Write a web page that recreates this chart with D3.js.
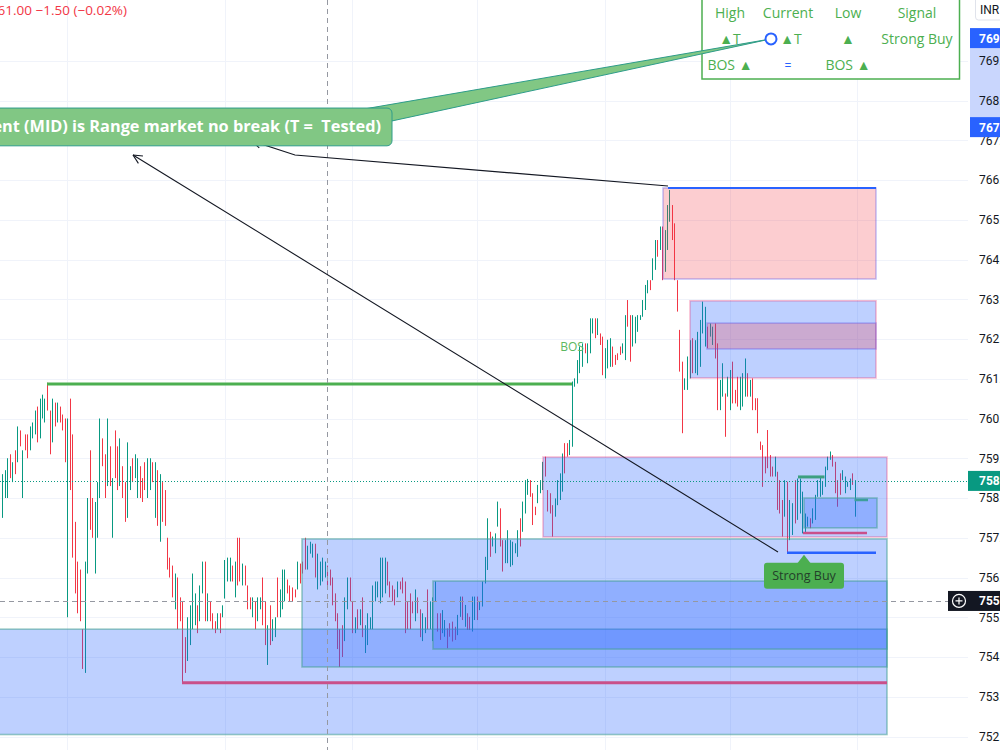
<!DOCTYPE html>
<html>
<head>
<meta charset="utf-8">
<script src="https://cdnjs.cloudflare.com/ajax/libs/d3/7.8.5/d3.min.js"></script>
<style>
  html, body { margin: 0; padding: 0; background: #fff; overflow: hidden; }
  svg { display: block; font-family: "Open Sans", Roboto, sans-serif; }
</style>
</head>
<body>
<svg id="chart" width="1000" height="750"></svg>
<script>
// ---- data (bar index 0..341, prices in INR) ----
const highs = [
  758.6,758.7,759.0,759.1,758.9,759.2,759.8,759.7,759.2,759.6,
  759.6,759.8,759.9,760.2,760.3,760.5,760.6,760.5,760.9,760.2,
  760.5,760.4,760.4,760.3,760.1,760.0,760.0,760.5,759.6,757.4,
  756.4,756.2,754.7,756.4,758.0,759.2,758.0,757.9,758.4,760.0,
  759.5,759.1,760.0,759.3,758.5,759.7,759.3,759.5,758.8,758.4,
  759.4,758.8,759.0,759.1,759.0,758.8,758.5,758.9,759.0,759.0,
  758.9,758.9,758.7,758.6,758.4,758.2,757.0,756.5,756.3,756.1,
  756.0,755.5,755.4,754.5,755.0,755.3,756.1,755.6,755.3,755.8,
  756.4,756.4,755.6,755.4,755.1,754.9,755.1,755.1,
  755.3,756.44,756.5,756.5,756.3,756.4,757.0,757.0,756.35,756.3,
  755.8,755.5,755.5,755.4,755.5,755.5,756.0,755.4,754.8,755.3,
  754.95,755.0,756.0,755.7,756.2,756.2,755.95,755.8,755.75,755.7,
  756.4,756.35,756.4,757.0,756.8,756.9,756.85,756.85,756.6,756.4,
  756.5,756.4,756.3,756.2,756.0,755.6,755.1,754.7,754.8,755.5,
  756.0,756.0,755.4,755.0,755.2,755.2,755.5,754.8,755.1,755.0,
  755.8,755.9,755.9,756.5,756.5,756.5,756.4,755.9,755.8,755.7,
  755.9,755.9,756.0,755.9,755.4,755.6,755.4,755.7,755.5,755.2,
  755.1,755.0,755.7,755.4,755.5,755.9,
  755.1,755.1,755.18,754.93,754.72,754.85,754.89,754.76,755.06,755.52,
  755.52,755.31,755.1,755.01,755.52,755.52,755.52,755.39,755.9,756.52,
  757.49,757.15,757.03,757.11,757.91,757.74,756.94,756.94,757.19,756.94,
  756.9,756.86,757.19,757.49,757.91,758.45,758.48,758.45,758.12,757.78,
  758.33,758.45,758.91,759.04,758.2,758.12,757.82,757.99,758.45,758.62,
  759.12,759.38,759.38,759.46,760.93,761.01,761.47,761.81,761.89,761.89,
  761.89,762.52,762.52,762.52,762.52,762.14,762.06,761.77,761.98,762.02,
  761.81,761.6,761.64,761.81,761.89,762.6,762.98,762.6,762.6,762.56,
  762.6,762.6,762.98,763.36,763.48,763.48,
  764.03,764.49,764.49,764.83,764.83,764.74,765.37,765.75,765.37,764.91,
  763.48,762.23,761.43,761.01,761.56,761.97,762.02,761.97,762.18,762.48,
  762.94,762.81,762.31,762.39,762.31,762.39,761.89,760.97,761.39,760.63,
  761.05,761.22,761.43,760.72,761.05,761.05,761.14,761.51,761.14,760.97,
  761.01,760.51,760.51,759.42,759.33,759.04,759.71,759.08,758.79,759.04,
  758.66,758.45,757.95,758.45,758.41,757.95,757.87,758.45,758.49,758.49,
  758.16,757.61,757.53,757.49,757.74,758.08,758.45,758.54,758.41,758.79,
  759.04,759.17,759.08,758.91,758.45,758.62,758.7,758.54,758.41,758.49,
  758.62,758.45
];
const lows = [
  757.5,758.0,758.0,758.5,758.4,758.6,758.9,759.3,758.0,759.2,
  759.0,759.2,759.5,759.6,759.4,759.5,760.0,759.9,760.2,759.1,
  759.4,759.8,759.9,759.9,759.7,758.9,755.0,758.2,756.5,755.6,
  755.1,754.9,753.7,753.6,756.1,757.2,757.0,756.1,757.0,758.0,
  758.8,758.0,758.3,758.3,757.0,758.5,758.2,758.3,758.0,757.4,
  757.5,758.2,758.4,758.5,758.0,758.0,757.9,758.2,758.0,758.2,
  758.4,757.5,757.3,756.9,757.4,757.3,756.2,756.0,755.5,755.2,
  754.7,754.9,753.35,753.6,753.9,754.3,754.7,754.8,754.6,754.9,
  755.6,754.9,754.9,754.9,754.7,754.6,754.7,754.6,
  755.0,755.47,755.9,755.9,755.9,755.5,755.8,755.9,755.8,755.8,
  755.2,755.2,755.0,754.7,754.9,755.2,754.8,754.3,753.8,754.3,
  754.4,754.5,755.0,755.0,755.2,755.4,755.6,755.4,755.4,755.5,
  755.7,755.85,756.1,756.2,756.2,756.6,756.5,756.0,755.7,755.8,
  755.9,756.0,755.8,755.8,755.3,754.9,754.2,753.75,754.0,754.4,
  755.2,755.4,754.6,754.6,754.7,754.8,754.5,754.1,754.3,754.7,
  754.7,755.4,755.5,755.35,755.5,755.6,755.8,755.5,755.4,755.3,
  755.5,755.7,755.6,754.6,754.7,754.7,755.1,754.9,755.1,754.5,
  754.4,754.6,754.7,754.7,754.4,755.4,
  754.64,754.43,754.6,754.51,754.22,754.51,754.39,754.43,754.55,755.01,
  754.93,754.76,754.68,754.68,754.64,754.93,754.93,755.18,755.27,755.85,
  756.19,756.52,756.78,756.61,757.28,756.78,756.15,756.36,756.36,756.27,
  756.31,756.61,756.52,756.78,757.15,757.61,758.08,758.03,757.32,757.57,
  757.87,758.12,758.2,758.54,757.66,757.61,757.03,757.53,757.82,757.95,
  758.16,758.62,759.04,759.08,759.29,760.8,760.88,761.14,761.3,761.64,
  761.39,761.64,762.14,762.02,762.1,761.85,761.09,761.01,761.26,761.3,
  761.3,761.35,761.47,761.6,761.64,761.47,762.31,761.43,761.81,761.89,
  762.18,762.48,762.56,762.73,763.15,763.23,
  763.48,763.74,764.07,764.24,763.48,763.69,764.24,764.95,764.49,763.48,
  762.69,761.18,759.63,760.72,760.72,761.01,761.14,761.14,761.09,761.3,
  762.14,761.81,761.77,762.06,761.85,761.51,760.21,760.21,760.55,759.54,
  760.55,760.21,760.38,760.38,760.3,760.21,760.3,760.55,760.55,760.55,
  760.21,760.21,759.63,759.21,758.28,758.62,758.75,758.54,758.54,758.54,
  757.7,757.61,757.03,757.53,756.62,756.94,757.07,757.36,757.45,757.61,
  757.11,757.11,757.28,757.24,757.36,757.45,758.03,758.03,758.08,758.28,
  758.7,758.96,758.79,758.12,757.78,758.08,758.45,758.12,758.28,758.2,
  758.33,757.53
];
// 1 = closed up (teal), 0 = closed down (red)
const rising = [
  1,1,1,0,1,0,1,0,1,0, 0,1,1,1,0,1,1,1,0,0, 1,0,1,0,0,0,1,0,0,0,
  0,0,0,1,1,0,0,1,1,1, 0,0,1,0,1,0,0,1,0,0, 1,1,0,1,1,0,0,0,1,1,
  0,1,0,1,0,0,0,0,0,1, 0,0,0,0,1,1,1,1,0,1, 1,0,1,0,0,0,1,0,
  1,1,1,1,0,1,0,0,1,0, 0,0,1,0,1,1,0,0,1,0, 1,1,0,1,1,1,0,0,0,0,
  1,0,0,0,1,1,1,0,1,1, 1,1,0,0,0,0,0,0,0,1, 1,0,0,1,0,1,0,1,1,1,
  1,1,1,1,1,1,0,0,0,0, 1,0,0,0,0,0,0,1,0,0, 1,1,0,1,1,1,
  0,0,1,1,0,0,0,0,1,1, 0,1,0,0,1,1,0,1,1,1, 1,0,1,1,1,0,0,1,1,1,
  1,1,1,0,1,1,1,0,0,0, 1,1,1,0,0,0,0,1,1,1, 1,0,0,1,1,1,1,1,1,0,
  1,1,1,0,1,0,0,1,1,1, 0,0,0,0,1,1,0,0,1,1, 1,1,1,1,1,0,
  1,1,0,1,0,1,1,1,0,0, 0,0,0,1,1,1,0,1,1,1, 1,1,0,1,1,0,0,1,1,0,
  1,1,0,0,0,1,1,1,0,1, 0,0,0,0,0,0,0,0,0,1, 0,0,0,1,0,1,1,0,1,1,
  1,1,1,0,1,1,1,1,1,1, 1,1,0,0,0,0,1,1,1,1, 0,1
];

const priceTicks = d3.range(752, 770);           // 752 ... 769
const timeGrid = [26, 89.2, 140, 190, 241.2, 291.2, 342];

// zones: bar-index span and price span
const zones = [
  { from: -5,    to: 354,   low: 752.05, high: 754.7,  kind: "demand" },
  { from: 120,   to: 354,   low: 753.75, high: 756.97, kind: "demand" },
  { from: 172.4, to: 354,   low: 754.2,  high: 755.91, kind: "demand" },
  { from: 216.4, to: 354,   low: 757.02, high: 759.03, kind: "blueP" },
  { from: 264.4, to: 349.6, low: 763.51, high: 765.8,  kind: "supply" },
  { from: 275.2, to: 349.6, low: 761.02, high: 762.96, kind: "blueP" },
  { from: 282,   to: 349.6, low: 761.75, high: 762.4,  kind: "supply" },
  { from: 320.8, to: 350,   low: 757.25, high: 758.0,  kind: "demand" }
];
const levels = [
  { from: 18,    to: 228,   price: 760.87, color: "#4caf50", w: 3 },
  { from: 72,    to: 354,   price: 753.35, color: "#c9508a", w: 3 },
  { from: 266.4, to: 349.6, price: 765.8,  color: "#2962ff", w: 2 },
  { from: 314,   to: 349.6, price: 756.62, color: "#2962ff", w: 2.5 },
  { from: 318.4, to: 329,   price: 758.53, color: "#3d9f80", w: 3 },
  { from: 341,   to: 346.4, price: 757.95, color: "#3d9f9a", w: 2.5 },
  { from: 320.4, to: 346,   price: 757.12, color: "#c9508a", w: 2.5 }
];
const lastPrice = 758.43;
const crossPrice = 755.41, crossBar = 130;
const calloutBox = { from: -4.8, to: 156, top: 767.81, bottom: 766.86 };
const calloutTail = [[145.2, 767.79], [307.6, 769.55], [155.6, 767.48]];
const arrows = [
  [[266.4, 765.85], [117.2, 766.63], [100, 766.98]],
  [[310.4, 756.64], [52.4, 766.63]]
];
const drawingPrices = [769.57, 767.33];

// ---- scales ----
const W = 1000, H = 750, plotRight = 968;
const x = d3.scaleLinear().domain([0, 341]).range([2, 854.5]);
const y = d3.scaleLinear().domain([752, 766]).range([736.5, 180]);

const svg = d3.select("#chart");
svg.append("defs").append("clipPath").attr("id", "plotClip")
  .append("rect").attr("width", plotRight).attr("height", H);

const plot = svg.append("g").attr("clip-path", "url(#plotClip)");

// grid
plot.selectAll(".hgrid").data(priceTicks).join("line")
  .attr("x1", 0).attr("x2", plotRight)
  .attr("y1", d => Math.round(y(d)) + 0.5).attr("y2", d => Math.round(y(d)) + 0.5)
  .attr("stroke", "#f0f3fa");
plot.selectAll(".vgrid").data(timeGrid).join("line")
  .attr("x1", d => Math.round(x(d)) + 0.5).attr("x2", d => Math.round(x(d)) + 0.5)
  .attr("y1", 0).attr("y2", H)
  .attr("stroke", "#f0f3fa");

// bars
const bars = highs.map((h, i) => ({ i, high: h, low: lows[i], up: rising[i] === 1 }));
plot.selectAll(".bar").data(bars).join("rect")
  .attr("x", d => Math.round(x(d.i)))
  .attr("width", 1)
  .attr("y", d => y(d.high))
  .attr("height", d => Math.max(1, y(d.low) - y(d.high)))
  .attr("fill", d => d.up ? "#089981" : "#f23645");

// zones drawn over the bars
const zoneStyle = {
  demand: { fill: "rgba(41,98,255,0.3)", stroke: "rgba(70,160,150,0.55)" },
  blueP:  { fill: "rgba(41,98,255,0.3)", stroke: "rgba(233,30,99,0.3)" },
  supply: { fill: "rgba(242,54,69,0.25)", stroke: "rgba(90,80,230,0.35)" }
};
plot.selectAll(".zone").data(zones).join("rect")
  .attr("x", d => x(d.from)).attr("width", d => x(d.to) - x(d.from))
  .attr("y", d => y(d.high)).attr("height", d => y(d.low) - y(d.high))
  .attr("fill", d => zoneStyle[d.kind].fill)
  .attr("stroke", d => zoneStyle[d.kind].stroke)
  .attr("stroke-width", 1.6);

// structure levels
plot.selectAll(".level").data(levels).join("line")
  .attr("x1", d => x(d.from)).attr("x2", d => x(d.to))
  .attr("y1", d => y(d.price)).attr("y2", d => y(d.price))
  .attr("stroke", d => d.color).attr("stroke-width", d => d.w);

// last price dotted line
plot.append("line")
  .attr("x1", 0).attr("x2", plotRight)
  .attr("y1", Math.round(y(lastPrice)) + 0.5).attr("y2", Math.round(y(lastPrice)) + 0.5)
  .attr("stroke", "#089981").attr("stroke-dasharray", "1,2");

// crosshair
plot.append("line")
  .attr("x1", 0).attr("x2", plotRight)
  .attr("y1", Math.round(y(crossPrice)) + 0.5).attr("y2", Math.round(y(crossPrice)) + 0.5)
  .attr("stroke", "#9598a1").attr("stroke-dasharray", "5,4");
plot.append("line")
  .attr("x1", Math.round(x(crossBar)) + 0.5).attr("x2", Math.round(x(crossBar)) + 0.5)
  .attr("y1", 0).attr("y2", H)
  .attr("stroke", "#9598a1").attr("stroke-dasharray", "5,4");

// BOS text
plot.append("text")
  .attr("x", x(228)).attr("y", y(761.8) + 4)
  .attr("text-anchor", "middle").attr("font-size", 12)
  .attr("fill", "#5cb860").text("BOS");

// arrows
arrows.forEach(pts => {
  const p = pts.map(d => [x(d[0]), y(d[1])]);
  plot.append("path").attr("d", d3.line()(p))
    .attr("fill", "none").attr("stroke", "#131722").attr("stroke-width", 1.1);
  const a = p[p.length - 1], b = p[p.length - 2];
  const ang = Math.atan2(b[1] - a[1], b[0] - a[0]);
  [-0.45, 0.45].forEach(o => {
    plot.append("line")
      .attr("x1", a[0]).attr("y1", a[1])
      .attr("x2", a[0] + 10 * Math.cos(ang + o)).attr("y2", a[1] + 10 * Math.sin(ang + o))
      .attr("stroke", "#131722").attr("stroke-width", 1.1);
  });
});

// Strong Buy label
{
  const tx = x(320.8), ty = y(756.62) + 2;
  const g = plot.append("g");
  g.append("path")
    .attr("d", `M${tx - 7},${ty + 9} L${tx},${ty} L${tx + 7},${ty + 9} Z`)
    .attr("fill", "#4caf50");
  g.append("rect")
    .attr("x", tx - 40).attr("y", ty + 8).attr("width", 80).attr("height", 26).attr("rx", 3)
    .attr("fill", "#4caf50");
  g.append("text")
    .attr("x", tx).attr("y", ty + 25.5).attr("text-anchor", "middle")
    .attr("font-size", 12.5).attr("fill", "#23402a").text("Strong Buy");
}

// header (cut at left edge)
svg.append("text")
  .attr("x", 127).attr("y", 15).attr("text-anchor", "end")
  .attr("font-size", 13.5).attr("fill", "#f23645")
  .text("C761.00 \u22121.50 (\u22120.02%)");

// table
{
  const g = svg.append("g");
  g.append("rect").attr("x", 702).attr("y", -1).attr("width", 257.5).attr("height", 80)
    .attr("fill", "#fff").attr("stroke", "#4caf50").attr("stroke-width", 1.5);
  const cols = [730, 788, 848, 917];
  const rows = [
    ["High", "Current", "Low", "Signal"],
    ["\u25B2T", "\u25B2T", "\u25B2", "Strong Buy"],
    ["BOS \u25B2", "=", "BOS \u25B2", ""]
  ];
  rows.forEach((r, ri) => r.forEach((t, ci) => {
    g.append("text")
      .attr("x", cols[ci] + (ri === 1 && ci === 1 ? 3 : 0))
      .attr("y", 18 + ri * 26)
      .attr("text-anchor", "middle").attr("font-size", ri === 2 && ci === 1 ? 12 : 14)
      .attr("fill", ri === 2 && ci === 1 ? "#2962ff" : "#4caf50")
      .text(t);
  }));
}

// callout with tail
{
  const tail = calloutTail.map(d => [x(d[0]), y(d[1])]);
  svg.append("path").attr("d", d3.line()(tail) + "Z")
    .attr("fill", "#81c784").attr("stroke", "#2e9c8a").attr("stroke-width", 1);
  svg.append("rect")
    .attr("x", x(calloutBox.from)).attr("y", y(calloutBox.top))
    .attr("width", x(calloutBox.to) - x(calloutBox.from))
    .attr("height", y(calloutBox.bottom) - y(calloutBox.top))
    .attr("rx", 5).attr("fill", "#81c784").attr("stroke", "#2e9c8a").attr("stroke-width", 1);
  svg.append("text")
    .attr("x", x(calloutBox.to) - 11).attr("y", y((calloutBox.top + calloutBox.bottom) / 2) + 5.5)
    .attr("text-anchor", "end").attr("font-size", 16.3).attr("font-weight", 700)
    .attr("fill", "#fff").style("white-space", "pre")
    .text("Current (MID) is Range market no break (T =  Tested)");
  svg.append("circle")
    .attr("cx", tail[1][0]).attr("cy", tail[1][1]).attr("r", 5.5)
    .attr("fill", "#fff").attr("stroke", "#2962ff").attr("stroke-width", 2);
}

// ---- price axis ----
svg.append("rect").attr("x", plotRight).attr("y", 0).attr("width", W - plotRight).attr("height", H)
  .attr("fill", "#fff");
svg.append("rect").attr("x", 970).attr("y", y(drawingPrices[0]))
  .attr("width", 30).attr("height", y(drawingPrices[1]) - y(drawingPrices[0]))
  .attr("fill", "#c9d6fd");

const axisG = svg.append("g").attr("transform", `translate(${plotRight + 8},0)`)
  .call(d3.axisRight(y).tickValues(priceTicks).tickFormat(d3.format(".2f")).tickSize(0).tickPadding(3));
axisG.select(".domain").remove();
axisG.selectAll("text").attr("font-size", 12).attr("fill", "#131722")
  .attr("font-family", "Roboto, sans-serif");

function axisLabel(price, fill, x0) {
  const yy = y(price);
  svg.append("rect").attr("x", x0).attr("y", yy - 10).attr("width", W - x0).attr("height", 20)
    .attr("fill", fill);
  svg.append("text").attr("x", 979).attr("y", yy + 4.5)
    .attr("font-size", 12).attr("font-weight", 700).attr("fill", "#fff")
    .attr("font-family", "Roboto, sans-serif").text(price.toFixed(2));
}
drawingPrices.forEach(p => axisLabel(p, "#2962ff", 970));
axisLabel(lastPrice, "#089981", 968);
axisLabel(crossPrice, "#131722", 948);
{
  const cy = y(crossPrice);
  svg.append("circle").attr("cx", 959).attr("cy", cy).attr("r", 6.5)
    .attr("fill", "none").attr("stroke", "#fff").attr("stroke-width", 1.2);
  svg.append("path").attr("d", `M955.5,${cy} H962.5 M959,${cy - 3.5} V${cy + 3.5}`)
    .attr("stroke", "#fff").attr("stroke-width", 1.2);
}

// currency box
svg.append("rect").attr("x", 975.5).attr("y", -4).attr("width", 30).attr("height", 24).attr("rx", 3)
  .attr("fill", "#fff").attr("stroke", "#e0e3eb");
svg.append("text").attr("x", 980).attr("y", 14).attr("font-size", 12)
  .attr("fill", "#131722").attr("font-family", "Roboto, sans-serif").text("INR");
</script>
</body>
</html>
